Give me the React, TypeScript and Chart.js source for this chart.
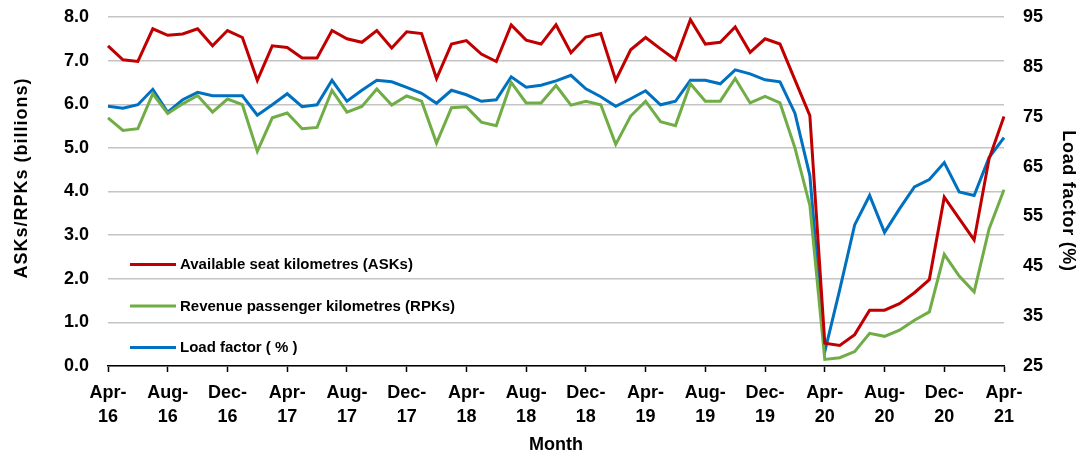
import React, { useEffect, useRef } from "react";
import { Chart, registerables } from "chart.js";

Chart.register(...registerables);

const months: string[] = [
  "Apr-16", "May-16", "Jun-16", "Jul-16", "Aug-16", "Sep-16", "Oct-16", "Nov-16", "Dec-16", "Jan-17", "Feb-17", "Mar-17",
  "Apr-17", "May-17", "Jun-17", "Jul-17", "Aug-17", "Sep-17", "Oct-17", "Nov-17", "Dec-17", "Jan-18", "Feb-18", "Mar-18",
  "Apr-18", "May-18", "Jun-18", "Jul-18", "Aug-18", "Sep-18", "Oct-18", "Nov-18", "Dec-18", "Jan-19", "Feb-19", "Mar-19",
  "Apr-19", "May-19", "Jun-19", "Jul-19", "Aug-19", "Sep-19", "Oct-19", "Nov-19", "Dec-19", "Jan-20", "Feb-20", "Mar-20",
  "Apr-20", "May-20", "Jun-20", "Jul-20", "Aug-20", "Sep-20", "Oct-20", "Nov-20", "Dec-20", "Jan-21", "Feb-21", "Mar-21",
  "Apr-21",
];

const asks: number[] = [
  7.34, 7.02, 6.98, 7.73, 7.58, 7.61, 7.73, 7.34, 7.69, 7.53, 6.55, 7.34,
  7.30, 7.06, 7.06, 7.69, 7.50, 7.42, 7.69, 7.29, 7.66, 7.62, 6.59, 7.38,
  7.46, 7.15, 6.98, 7.82, 7.47, 7.38, 7.82, 7.18, 7.54, 7.62, 6.55, 7.25,
  7.53, 7.27, 7.02, 7.94, 7.38, 7.42, 7.77, 7.19, 7.50, 7.38, 6.56, 5.74,
  0.52, 0.47, 0.72, 1.28, 1.28, 1.43, 1.68, 1.98, 3.87, 3.38, 2.89, 4.75,
  5.72,
];

const rpks: number[] = [
  5.69, 5.40, 5.44, 6.24, 5.79, 6.01, 6.20, 5.82, 6.12, 5.99, 4.92, 5.69,
  5.80, 5.44, 5.47, 6.32, 5.82, 5.95, 6.35, 5.98, 6.19, 6.07, 5.11, 5.92,
  5.94, 5.59, 5.51, 6.50, 6.03, 6.03, 6.43, 5.98, 6.07, 5.99, 5.08, 5.73,
  6.07, 5.60, 5.51, 6.47, 6.07, 6.07, 6.59, 6.03, 6.18, 6.03, 5.00, 3.68,
  0.15, 0.19, 0.33, 0.75, 0.68, 0.82, 1.05, 1.24, 2.56, 2.06, 1.70, 3.14,
  4.04,
];

const loadFactor: number[] = [
  77.1, 76.7, 77.4, 80.5, 75.9, 78.4, 79.9, 79.2, 79.2, 79.2, 75.3, 77.4,
  79.6, 77.0, 77.4, 82.3, 78.1, 80.3, 82.3, 82.0, 80.9, 79.7, 77.7, 80.3,
  79.4, 78.1, 78.4, 83.0, 80.9, 81.3, 82.2, 83.3, 80.6, 79.0, 77.1, 78.6,
  80.2, 77.4, 78.1, 82.3, 82.3, 81.6, 84.4, 83.6, 82.4, 82.0, 75.7, 63.2,
  27.9, 40.3, 53.3, 59.2, 51.8, 56.5, 60.9, 62.4, 65.8, 59.9, 59.2, 66.8,
  70.8,
];

const leftTicks = { min: 0, max: 8, step: 1 };
const rightTicks = { min: 25, max: 95, step: 10 };

const leftTitle = "ASKs/RPKs (billions)";
const rightTitle = "Load factor (%)";
const bottomTitle = "Month";

const FONT = "'Liberation Sans', Arial, sans-serif";

const insideLegend = {
  id: "insideLegend",
  afterDatasetsDraw(chart: any) {
    const { ctx, chartArea } = chart;
    const x0 = chartArea.left + 22;
    const y0 = chartArea.bottom - 101.5;
    const step = 41.5;
    ctx.save();
    ctx.font = `bold 15px ${FONT}`;
    ctx.textBaseline = "middle";
    ctx.textAlign = "left";
    chart.data.datasets.forEach((ds: any, i: number) => {
      const y = y0 + i * step;
      ctx.strokeStyle = ds.borderColor;
      ctx.lineWidth = 3;
      ctx.beginPath();
      ctx.moveTo(x0, y);
      ctx.lineTo(x0 + 46, y);
      ctx.stroke();
      ctx.fillStyle = "#000";
      ctx.fillText(ds.label, x0 + 50, y + 0.5);
    });
    ctx.restore();
  },
};

const sideTitles = {
  id: "sideTitles",
  afterDraw(chart: any) {
    const { ctx, chartArea } = chart;
    ctx.save();
    ctx.fillStyle = "#000";
    ctx.font = `bold 18px ${FONT}`;
    ctx.textAlign = "center";
    ctx.textBaseline = "middle";
    try { (ctx as any).letterSpacing = "1px"; } catch (e) {}
    ctx.save();
    ctx.translate(chartArea.left - 86, chartArea.top + 161);
    ctx.rotate(-Math.PI / 2);
    ctx.fillText(leftTitle, 0, 0);
    ctx.restore();
    try { (ctx as any).letterSpacing = "0.7px"; } catch (e) {}
    ctx.save();
    ctx.translate(chartArea.right + 63.5, chartArea.top + 184);
    ctx.rotate(Math.PI / 2);
    ctx.fillText(rightTitle, 0, 0);
    ctx.restore();
    ctx.restore();
  },
};

export default function App() {
  const ref = useRef<HTMLCanvasElement | null>(null);

  useEffect(() => {
    if (!ref.current) return;
    const chart = new Chart(ref.current, {
      type: "line",
      data: {
        labels: months,
        datasets: [
          {
            label: "Available seat kilometres (ASKs)",
            data: asks,
            borderColor: "#C00000",
            backgroundColor: "#C00000",
            borderWidth: 3,
            pointRadius: 0,
            tension: 0,
            yAxisID: "y",
          },
          {
            label: "Revenue passenger kilometres (RPKs)",
            data: rpks,
            borderColor: "#70AD47",
            backgroundColor: "#70AD47",
            borderWidth: 3,
            pointRadius: 0,
            tension: 0,
            yAxisID: "y",
          },
          {
            label: "Load factor ( % )",
            data: loadFactor,
            borderColor: "#0070C0",
            backgroundColor: "#0070C0",
            borderWidth: 3,
            pointRadius: 0,
            tension: 0,
            yAxisID: "y1",
          },
        ],
      },
      options: {
        responsive: false,
        animation: false,
        devicePixelRatio: 1,
        layout: { padding: { top: 17, left: 0, right: 0, bottom: 0 } },
        plugins: {
          legend: { display: false },
          tooltip: { enabled: false },
        },
        scales: {
          x: {
            type: "category",
            offset: false,
            grid: {
              drawOnChartArea: false,
              drawTicks: true,
              tickLength: 6,
              tickColor: "#000",
              tickWidth: 1.5,
            },
            border: { display: true, color: "#000", width: 1.5 },
            ticks: {
              autoSkip: false,
              maxRotation: 0,
              minRotation: 0,
              padding: 10,
              color: "#000",
              font: { family: FONT, size: 18, weight: "bold", lineHeight: 1.28 },
              callback: function (this: any, val: any, index: number) {
                if (index % 4 !== 0) return null;
                const lab: string = this.getLabelForValue(val);
                return [lab.slice(0, 4), lab.slice(4)];
              },
            },
            title: {
              display: true,
              text: bottomTitle,
              color: "#000",
              font: { family: FONT, size: 18, weight: "bold", lineHeight: 1 },
              padding: { top: 0, bottom: 1 },
            },
            afterFit: (scale: any) => {
              scale.height = 89;
            },
          },
          y: {
            position: "left",
            min: leftTicks.min,
            max: leftTicks.max,
            grid: {
              color: "#c4c4c4",
              lineWidth: 1.5,
              drawTicks: true,
              tickLength: 19,
              tickColor: "rgba(0,0,0,0)",
            },
            border: { display: false },
            ticks: {
              stepSize: leftTicks.step,
              padding: 0,
              color: "#000",
              font: { family: FONT, size: 18, weight: "bold" },
              callback: (v: any) => Number(v).toFixed(1),
            },
            afterFit: (scale: any) => {
              scale.width = 108;
            },
          },
          y1: {
            position: "right",
            min: rightTicks.min,
            max: rightTicks.max,
            grid: {
              drawOnChartArea: false,
              drawTicks: true,
              tickLength: 19,
              tickColor: "rgba(0,0,0,0)",
            },
            border: { display: false },
            ticks: {
              stepSize: rightTicks.step,
              padding: 0,
              color: "#000",
              font: { family: FONT, size: 18, weight: "bold" },
            },
            afterFit: (scale: any) => {
              scale.width = 73;
            },
          },
        },
      },
      plugins: [insideLegend, sideTitles],
    });
    return () => chart.destroy();
  }, []);

  return (
    <div style={{ position: "fixed", left: 0, top: 0, width: 1077, height: 455, background: "#fff" }}>
      <canvas ref={ref} width={1077} height={455} style={{ display: "block" }} />
    </div>
  );
}
